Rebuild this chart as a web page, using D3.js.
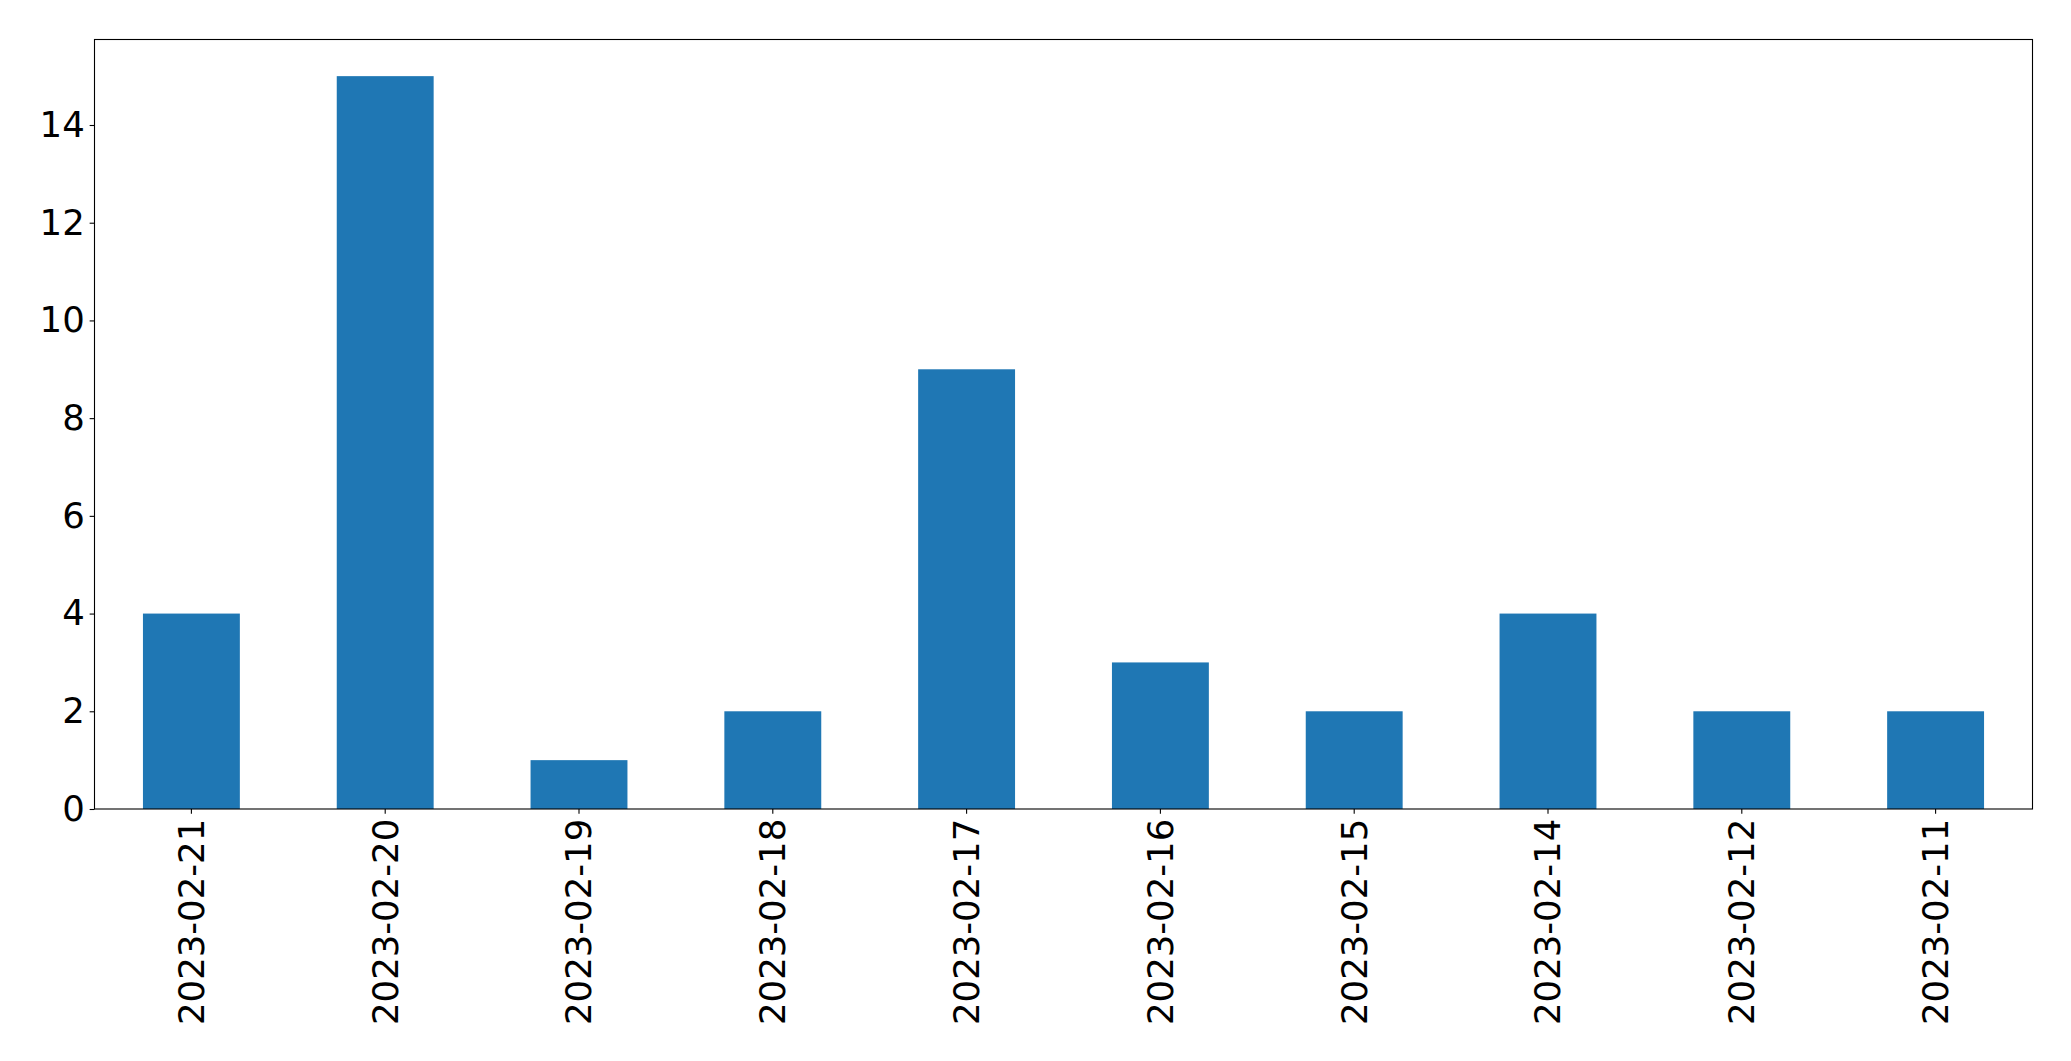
<!DOCTYPE html>
<html><head><meta charset="utf-8">
<script src="https://cdn.jsdelivr.net/npm/d3@7"></script>
<style>html,body{margin:0;padding:0;background:#fff;}</style>
</head><body>
<script>
const categories = ["2023-02-21","2023-02-20","2023-02-19","2023-02-18","2023-02-17","2023-02-16","2023-02-15","2023-02-14","2023-02-12","2023-02-11"];
const values = [4, 15, 1, 2, 9, 3, 2, 4, 2, 2];
const yTicks = [0, 2, 4, 6, 8, 10, 12, 14];

const W = 2071, H = 1061;
const m = {left: 94.5, right: 2032.5, top: 39.5, bottom: 809};
const svg = d3.select("body").append("svg").attr("width", W).attr("height", H)
  .style("font-family", "DejaVu Sans");

const x = d3.scaleBand().domain(categories).range([m.left, m.right]).paddingInner(0.5).paddingOuter(0.25);
const y = d3.scaleLinear().domain([0, 15.75]).range([m.bottom, m.top]);

svg.append("g").selectAll("rect").data(values).join("rect")
  .attr("x", (d, i) => x(categories[i]))
  .attr("width", x.bandwidth())
  .attr("y", d => y(d))
  .attr("height", d => y(0) - y(d))
  .attr("fill", "#1f77b4");

const fs = "35.5px";
const yAxis = svg.append("g").attr("transform", `translate(${m.left},0)`)
  .call(d3.axisLeft(y).tickValues(yTicks).tickSize(4.86).tickPadding(4.86).tickFormat(d3.format("d")));
yAxis.select(".domain").remove();
yAxis.selectAll("line").attr("stroke", "#000").attr("stroke-width", 1.1);
yAxis.selectAll("text").style("font-size", fs).attr("fill", "#000").attr("font-family", "DejaVu Sans");

const xAxis = svg.append("g").attr("transform", `translate(0,${m.bottom})`)
  .call(d3.axisBottom(x).tickSize(4.86).tickPadding(4.86));
xAxis.select(".domain").remove();
xAxis.selectAll("line").attr("stroke", "#000").attr("stroke-width", 1.1);
xAxis.selectAll("text").style("font-size", fs).attr("fill", "#000").attr("font-family", "DejaVu Sans")
  .attr("transform", "rotate(-90)")
  .attr("text-anchor", "end")
  .attr("x", -9.72).attr("y", 0).attr("dy", "0.35em");

svg.append("rect").attr("x", m.left).attr("y", m.top)
  .attr("width", m.right - m.left).attr("height", m.bottom - m.top)
  .attr("fill", "none").attr("stroke", "#000").attr("stroke-width", 1.1);
</script>
</body></html>
